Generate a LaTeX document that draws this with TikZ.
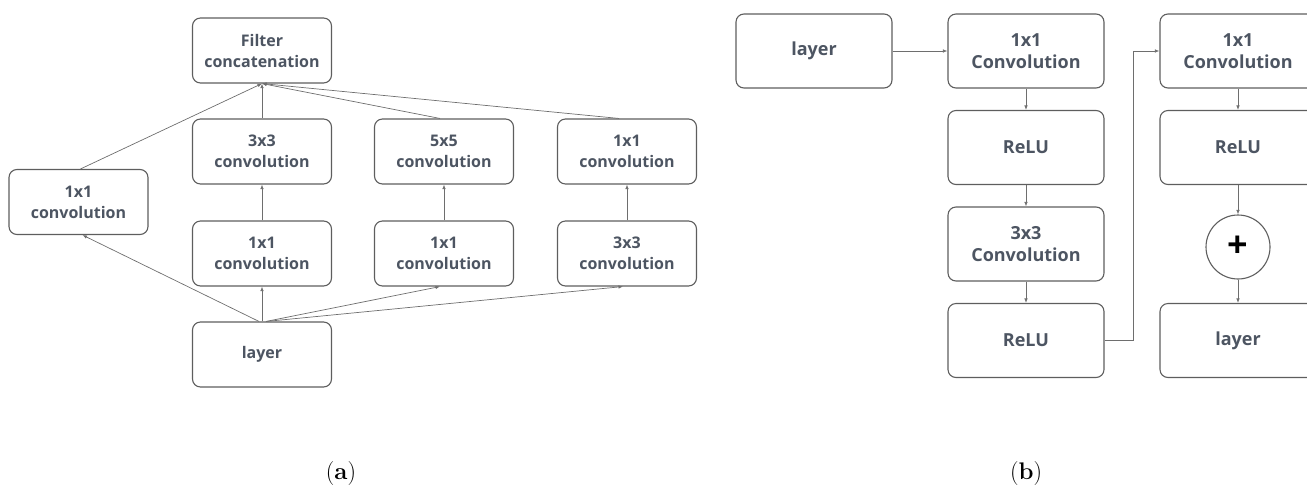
\documentclass[tikz,border=0pt]{standalone}
\usepackage{fontspec}
\setmainfont{Open Sans}
\newfontfamily\capfont{Latin Modern Roman}
\usetikzlibrary{arrows.meta,calc}
\definecolor{txt}{HTML}{4D5562}
\definecolor{edgec}{HTML}{5E5E5E}
\definecolor{wirec}{HTML}{6E6E6E}
\begin{document}
\begin{tikzpicture}[x=1pt,y=-1pt,
 box/.style={draw=edgec,line width=1.1pt,rounded corners=8pt,fill=white,align=center,text=txt,font=\fontsize{16}{21}\selectfont\bfseries,inner sep=0pt},
 boxa/.style={box,minimum width=139pt,minimum height=65pt},
 boxb/.style={box,minimum width=156pt,minimum height=74pt,font=\fontsize{18}{22.5}\selectfont\bfseries},
 wire/.style={draw=wirec,line width=0.7pt,-{Latex[length=4.5pt,width=3.5pt]}},
 captext/.style={font=\capfont\fontsize{24}{28}\selectfont},
]
\useasboundingbox (0,0) rectangle (1307,491);
\clip (0,0) rectangle (1307,491);
% (a)
\node[boxa] (fc) at (262,50.5) {Filter\\concatenation};
\node[boxa] (c33) at (262,151.5) {3x3\\convolution};
\node[boxa] (c55) at (444,151.5) {5x5\\convolution};
\node[boxa] (c11r) at (627,151.5) {1x1\\convolution};
\node[boxa] (c11l) at (78.5,202) {1x1\\convolution};
\node[boxa] (c11m) at (262,253.5) {1x1\\convolution};
\node[boxa] (c11n) at (444,253.5) {1x1\\convolution};
\node[boxa] (c33r) at (627,253.5) {3x3\\convolution};
\node[boxa] (lay) at (262,354.5) {layer};
\draw[wire] ([xshift=-3pt]lay.north) -- ([xshift=4pt]c11l.south);
\draw[wire] (lay.north) -- (c11m.south);
\draw[wire] ([xshift=4pt]lay.north) -- ([xshift=-4pt]c11n.south);
\draw[wire] ([xshift=4pt]lay.north) -- ([xshift=-4pt]c33r.south);
\draw[wire] (c11m.north) -- (c33.south);
\draw[wire] (c11n.north) -- (c55.south);
\draw[wire] (c33r.north) -- (c11r.south);
\draw[wire] ([xshift=2pt]c11l.north) -- (fc.south);
\draw[wire] (c33.north) -- (fc.south);
\draw[wire] ([xshift=-4pt]c55.north) -- (fc.south);
\draw[wire] ([xshift=-8pt]c11r.north) -- (fc.south);
% (b)
\node[boxb] (blay) at (814,51) {layer};
\node[boxb] (b1) at (1026,51) {1x1\\Convolution};
\node[boxb] (b2) at (1026,147.5) {ReLU};
\node[boxb] (b3) at (1026,244) {3x3\\Convolution};
\node[boxb] (b4) at (1026,340.5) {ReLU};
\node[boxb] (b5) at (1238,51) {1x1\\Convolution};
\node[boxb] (b6) at (1238,147.5) {ReLU};
\node[circle,draw=edgec,line width=1.1pt,minimum size=64pt,inner sep=0pt,font=\fontsize{36}{36}\selectfont\bfseries] (bp) at (1238,247) {+};
\node[boxb] (b7) at (1238,340.5) {layer};
\coordinate (k1) at (1133,340.5);
\coordinate (k2) at (1133,51);
\draw[wire] (blay.east) -- (b1.west);
\draw[wire] (b1.south) -- (b2.north);
\draw[wire] (b2.south) -- (b3.north);
\draw[wire] (b3.south) -- (b4.north);
\draw[wire] (b4.east) -- (k1) -- (k2) -- (b5.west);
\draw[wire] (b5.south) -- (b6.north);
\draw[wire] (b6.south) -- (bp.north);
\draw[wire] (bp.south) -- (b7.north);
% captions
\node[captext] (capa) at (341,474) {(\textbf{a})};
\node[captext] (capb) at (1026,474) {(\textbf{b})};
\end{tikzpicture}
\end{document}
